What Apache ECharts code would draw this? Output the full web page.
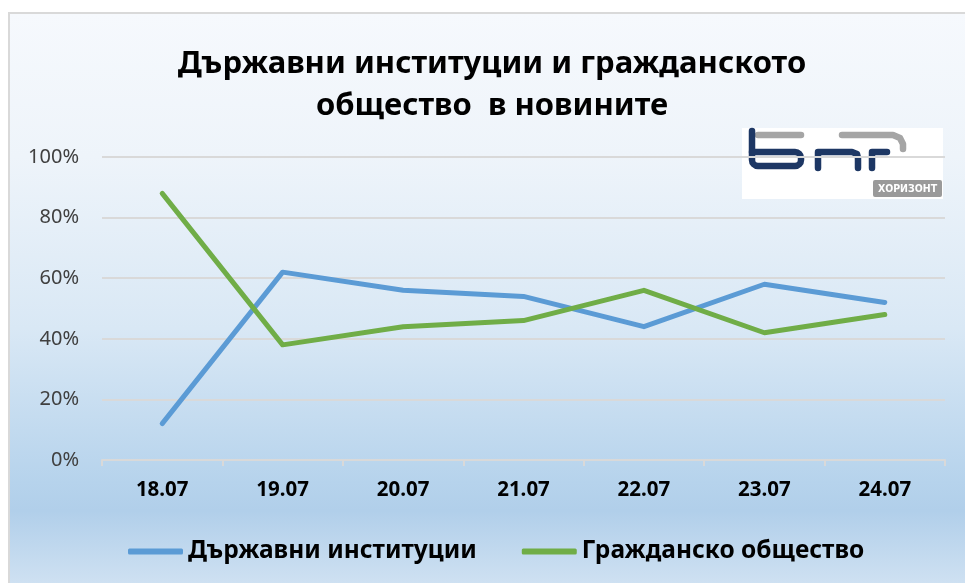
<!DOCTYPE html>
<html>
<head>
<meta charset="utf-8">
<script src="https://cdn.jsdelivr.net/npm/echarts@6/dist/echarts.min.js"></script>
<style>
*{
  margin: 0;
  padding: 0;
}
body{
  background: #fff;
  width: 965px;
  height: 583px;
  overflow: hidden;
  position: relative;
}
.frame{
  position: absolute;
  left: 8px;
  top: 12px;
  width: 970px;
  height: 571px;
  border-left: 2px solid #d9d9d9;
  border-top: 2px solid #d9d9d9;
  background: linear-gradient(to bottom, #f6f9fd 0%, #eef4fa 25%, #d9e8f5 55%, #b6d3ec 82%, #b1cfea 87%, #cfe1f2 100%);
}
#lineChart{
  position: absolute;
  left: 0;
  top: 0;
  width: 965px;
  height: 583px;
}
</style>
</head>
<body>
<div class="frame"></div>
<div id="lineChart"></div>
<script>
// данни
const dates = ['18.07', '19.07', '20.07', '21.07', '22.07', '23.07', '24.07']
const institutions = [12, 62, 56, 54, 44, 58, 52]
const society = [88, 38, 44, 46, 56, 42, 48]
const yTicks = [0, 20, 40, 60, 80, 100]

const navy = '#1d3764'
const grey = '#a5a5a5'

function stroke(color, w){
  return {stroke: color, lineWidth: w, fill: null, lineCap: 'round', lineJoin: 'round'}
}

function draw(){
  var chart = echarts.init(document.getElementById('lineChart'))
  var option = {
    backgroundColor: 'transparent',
    animation: false,
    title: {
      text: 'Държавни институции и гражданското\nобщество  в новините',
      left: 487,
      top: 38,
      textAlign: 'center',
      textStyle: {
        fontFamily: 'Noto Sans',
        fontWeight: 'bold',
        fontSize: 31,
        lineHeight: 42,
        color: '#000'
      }
    },
    grid: {
      left: 102,
      right: 20,
      top: 157,
      bottom: 123
    },
    legend: {
      left: 123,
      top: 534,
      icon: 'roundRect',
      itemWidth: 55,
      itemHeight: 6,
      itemGap: 45,
      textStyle: {
        fontFamily: 'Noto Sans',
        fontWeight: 'bold',
        fontSize: 24.5,
        color: '#000'
      },
      data: ['Държавни институции', 'Гражданско общество']
    },
    xAxis: {
      type: 'category',
      data: dates,
      boundaryGap: true,
      axisLine: {lineStyle: {color: '#d9d9d9', width: 2}},
      axisTick: {show: true, length: 6, lineStyle: {color: '#d9d9d9', width: 2}},
      axisLabel: {
        margin: 20,
        fontFamily: 'Noto Sans',
        fontWeight: 'bold',
        fontSize: 20.5,
        color: '#000'
      }
    },
    yAxis: {
      type: 'value',
      min: yTicks[0],
      max: yTicks[yTicks.length - 1],
      interval: 20,
      axisLine: {show: false},
      axisTick: {show: false},
      splitLine: {lineStyle: {color: '#d9d9d9', width: 2}},
      axisLabel: {
        margin: 23,
        formatter: '{value}%',
        fontFamily: 'Noto Sans',
        fontSize: 20,
        color: '#404040'
      }
    },
    series: [
      {
        name: 'Държавни институции',
        type: 'line',
        data: institutions,
        symbol: 'none',
        color: '#5b9bd5',
        lineStyle: {width: 5, cap: 'round', join: 'round'}
      },
      {
        name: 'Гражданско общество',
        type: 'line',
        data: society,
        symbol: 'none',
        color: '#70ad47',
        lineStyle: {width: 5, cap: 'round', join: 'round'}
      }
    ],
    // логото на БНР Хоризонт
    graphic: [
      {type: 'rect', shape: {x: 742, y: 128, width: 201, height: 71}, style: {fill: '#fff'}},
      {type: 'polyline', shape: {points: [[758, 135], [801, 135]]}, style: stroke(grey, 6.5)},
      {type: 'polyline', shape: {points: [[752, 131], [752, 152]]}, style: stroke(navy, 6.5)},
      {type: 'rect', shape: {x: 752, y: 152, width: 49, height: 14, r: [0, 6, 6, 6]}, style: stroke(navy, 6.5)},
      {type: 'polyline', shape: {points: [[818, 168], [818, 152], [852, 152], [857, 154], [858, 158], [858, 168]]}, style: stroke(navy, 6.5)},
      {type: 'polyline', shape: {points: [[872, 168], [872, 152], [887, 152]]}, style: stroke(navy, 6.5)},
      {type: 'polyline', shape: {points: [[842, 135], [893, 135], [900, 138], [903, 144], [903, 149]]}, style: stroke(grey, 6.5)},
      {type: 'rect', shape: {x: 873, y: 180, width: 69, height: 17, r: 2}, style: {fill: '#9a9a9a'}},
      {type: 'text', x: 907.5, y: 189, style: {text: 'ХОРИЗОНТ', fill: '#fff', font: 'bold 10.5px "DejaVu Sans Condensed"', textAlign: 'center', textVerticalAlign: 'middle'}}
    ]
  }
  chart.setOption(option)
}

draw()
</script>
</body>
</html>
